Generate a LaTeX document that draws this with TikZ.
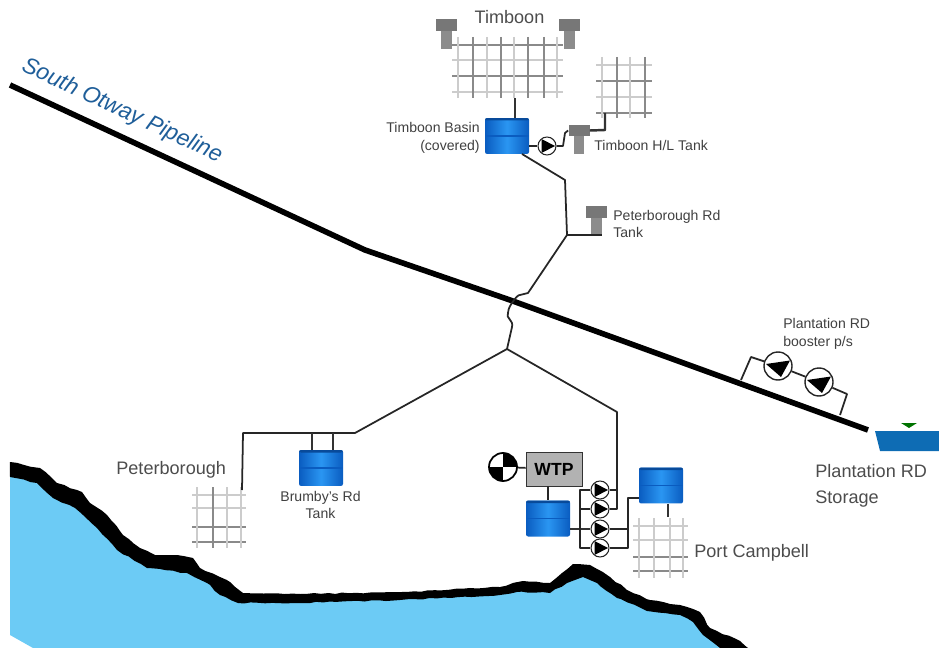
\documentclass[tikz,border=0pt]{standalone}
\usepackage{fontspec}
\setmainfont{Liberation Sans}
\usetikzlibrary{calc,decorations.pathmorphing}
\definecolor{seablue}{HTML}{6CCBF5}
\definecolor{gridlight}{HTML}{CCCCCC}
\definecolor{griddark}{HTML}{8A8A8A}
\definecolor{tankgrey}{HTML}{8C8C8C}
\definecolor{tankdark}{HTML}{0A5CC0}
\definecolor{tanklight}{HTML}{2A96F2}
\definecolor{store}{HTML}{0E6CB4}
\definecolor{pipeline}{HTML}{1F5E99}
\pgfdeclarehorizontalshading{tankshade}{100bp}{color(0bp)=(tankdark);color(25bp)=(tankdark);color(50bp)=(tanklight);color(75bp)=(tankdark);color(100bp)=(tankdark)}
\tikzset{
  x=0.02cm,y=-0.02cm,
  pipe/.style={draw=black!85,line width=1pt,line join=round},
  pipeb/.style={draw=black!80,line width=1.4pt,line join=round},
  thickpipe/.style={draw=black,line width=3.2pt,line join=round},
  rough/.style={decorate,decoration={random steps,segment length=4pt,amplitude=0.4pt}},
  tankbox/.style={rectangle,minimum width=0.88cm,minimum height=0.72cm,inner sep=0pt,rounded corners=1.2pt,
    shading=tankshade,
    path picture={\fill[tankdark!80!black] (path picture bounding box.north west) rectangle ([yshift=-0.05cm]path picture bounding box.north east);
      \draw[tankdark,line width=0.6pt] (path picture bounding box.west) -- (path picture bounding box.east);}},
  pumpc/.style={circle,draw=black!85,fill=white,line width=0.6pt,minimum size=0.36cm,inner sep=0pt,
    path picture={\fill[black] ([xshift=-0.11cm,yshift=0.14cm]path picture bounding box.center) -- ([xshift=0.16cm]path picture bounding box.center) -- ([xshift=-0.11cm,yshift=-0.14cm]path picture bounding box.center) -- cycle;}},
  bigpump/.style={circle,draw=black!85,fill=white,line width=0.8pt,minimum size=0.56cm,inner sep=0pt,
    path picture={\fill[black] ([xshift=-0.24cm,yshift=0.04cm]path picture bounding box.center) -- ([xshift=0.24cm,yshift=0.11cm]path picture bounding box.center) -- ([xshift=0.06cm,yshift=-0.22cm]path picture bounding box.center) -- cycle;}},
  towerhead/.style={rectangle,fill=tankgrey!85!black,inner sep=0pt,minimum width=0.42cm,minimum height=0.23cm},
  towerstem/.style={rectangle,fill=tankgrey,inner sep=0pt,minimum width=0.22cm,minimum height=0.36cm},
  lbl/.style={font=\fontsize{8}{10}\selectfont,text=black!75,inner sep=0pt,align=left},
  lblbig/.style={font=\fontsize{10.3}{15}\selectfont,text=black!70,inner sep=0pt,align=left},
}
\newcommand{\gridnet}[9]{%
  \foreach \hy/\hc in {#3/gridlight,#4/griddark,#5/gridlight,#6/griddark}
    \draw[\hc,line width=1.1pt] (#1,\hy) -- (#2,\hy);
  \foreach \vx/\vc in {#9}
    \draw[\vc,line width=1.1pt] (\vx,#7) -- (\vx,#8);
}
\begin{document}
\begin{tikzpicture}
\useasboundingbox (0,0) rectangle (939,648);
% sea and coast
\fill[seablue] (10,470) -- (37,478) -- (53,492) -- (75,502) -- (97,522) -- (117,545) -- (147,563) -- (187,568) -- (207,578) -- (220,590) -- (238,598) -- (400,596) -- (500,590) -- (517,587) -- (550,588) -- (567,578) -- (583,572) -- (597,578) -- (617,593) -- (647,606) -- (680,610) -- (693,617) -- (703,630) -- (720,648) -- (33,648) -- (10,635) -- cycle;
\fill[black,rough] (10,462) -- (40,468) -- (57,483) -- (82,492) -- (90,503) -- (107,515) -- (123,535) -- (140,548) -- (155,555) -- (177,555) -- (193,558) -- (200,568) -- (220,577) -- (230,582) -- (243,593) -- (300,594) -- (400,592) -- (500,587) -- (523,581) -- (550,583) -- (562,573) -- (573,564) -- (590,565) -- (610,577) -- (627,590) -- (650,600) -- (680,605) -- (700,612) -- (710,628) -- (740,641) -- (748,648) -- (720,648) -- (703,635) -- (693,622) -- (680,615) -- (647,611) -- (617,598) -- (597,583) -- (583,577) -- (567,583) -- (550,593) -- (517,592) -- (500,595) -- (400,600) -- (300,603) -- (238,603) -- (220,595) -- (207,583) -- (187,573) -- (147,568) -- (117,550) -- (97,528) -- (75,508) -- (53,498) -- (37,483) -- (10,477) -- cycle;
% grids
\gridnet{452}{563}{60}{76}{92}{45}{37}{98}{458/gridlight,473/griddark,487/gridlight,501/griddark,514/gridlight,528/griddark,544/griddark,557/gridlight}
\gridnet{596}{652}{65}{81}{97}{113}{57}{118}{602/gridlight,617/griddark,630/gridlight,645/griddark}
\gridnet{192}{246}{495}{527}{508}{542}{487}{548}{197/gridlight,213/griddark,227/gridlight,241/gridlight}
\gridnet{633}{688}{526}{557}{540}{571}{518}{578}{639/gridlight,654/gridlight,670/gridlight,683/gridlight}
% storage
\fill[store] (875,431) -- (939,431) -- (939,451) -- (880,451) -- cycle;
\fill[green!45!black] (901,423) -- (917,423) -- (909,428) -- cycle;
% nodes
\node[towerstem] (tl) at (446.5,40) {}; \node[towerhead] (tlh) at (446.5,25) {};
\node[towerstem] (tr) at (569,40) {}; \node[towerhead] (trh) at (569,25) {};
\node[towerstem,minimum width=0.2cm] (hl) at (578.5,145) {}; \node[towerhead] (hlh) at (579,130.5) {};
\node[towerstem] (pr) at (596,226) {}; \node[towerhead] (prh) at (596,212) {};
\node[tankbox] (basin) at (507,136) {};
\node[tankbox] (brumby) at (321,468) {};
\node[tankbox] (wtptank) at (548,518.5) {};
\node[tankbox] (pctank) at (661,485.5) {};
\node[pumpc] (ptim) at (547,146) {};
\node[pumpc] (p1) at (600,490) {};
\node[pumpc] (p2) at (600,509) {};
\node[pumpc] (p3) at (600,529) {};
\node[pumpc] (p4) at (600,548) {};
\node[bigpump] (b1) at (778,366) {};
\node[bigpump] (b2) at (819,382) {};
\node[rectangle,draw=black!80,fill=black!30,minimum width=1.12cm,minimum height=0.68cm,inner sep=0pt,font=\bfseries\fontsize{10}{12}\selectfont] (wtp) at (554,469) {WTP};
\node[circle,draw=black,line width=1pt,fill=white,minimum size=0.56cm,inner sep=0pt,
  path picture={\fill[black] (path picture bounding box.center) rectangle (path picture bounding box.north east);
  \fill[black] (path picture bounding box.center) rectangle (path picture bounding box.south west);}] (clock) at (503,467) {};
% coordinates
\coordinate (A) at (10,85); \coordinate (B) at (365,250); \coordinate (C) at (510,300); \coordinate (D) at (868,430);
\coordinate (J) at (507,349); \coordinate (L1) at (355,433); \coordinate (L2) at (243,433); \coordinate (gPet) at (242,490);
\coordinate (R1) at (617,412); \coordinate (R2) at (617,509); \coordinate (R3) at (617,490);
\coordinate (T1) at (567,235); \coordinate (T2) at (565,180); \coordinate (T3) at (522,154);
\coordinate (S1) at (528,293); \coordinate (S2) at (520,295); \coordinate (S3) at (512,303); \coordinate (S4) at (508,313); \coordinate (S5) at (512,327);
\coordinate (bL) at (312,433); \coordinate (bR) at (333,433);
\coordinate (gTim) at (515,98); \coordinate (gHL) at (605,113); \coordinate (gPC) at (668,517);
\coordinate (hBend) at (605,130); \coordinate (k1) at (563,146); \coordinate (k2) at (565,133);
\coordinate (busT) at (580,490); \coordinate (busM) at (580,509); \coordinate (busB) at (580,548);
\coordinate (rT) at (628,498); \coordinate (rM) at (628,529); \coordinate (rB) at (628,548);
\coordinate (c1) at (741,380); \coordinate (c2) at (751,357); \coordinate (c3) at (847,394); \coordinate (c4) at (840,415);
% pipeline
\draw[thickpipe] (A) -- (B) -- (C) -- (D);
% network
\draw[pipe] (J) -- (L1) -- (L2) -- (gPet);
\draw[pipe] (J) -- (R1) -- (R2) -- (p2.east);
\draw[pipe] (p1.east) -- (R3);
\draw[pipe] (J) -- (S5) .. controls (514,320) and (505,318) .. (S4) .. controls (508,308) and (512,303) .. (S3) .. controls (516,297) and (518,295) .. (S2) -- (S1) -- (T1) -- (T2) -- (T3);
\draw[pipe] (T1) -- (T1 -| pr.east);
\draw[pipeb] (bL) -- (bL |- brumby.north);
\draw[pipeb] (bR) -- (bR |- brumby.north);
\draw[pipeb] (basin.north -| gTim) -- (gTim);
\draw[pipe] (basin.east |- ptim) -- (ptim);
\draw[pipe] (ptim.east) -- (k1) -- (k2) -- (hlh.west);
\draw[pipeb] (hlh.east) -- (hBend) -- (gHL);
% WTP group
\draw[pipe] (clock) -- (wtp);
\draw[pipe] (wtp.south -| wtptank) -- (wtptank);
\draw[pipeb] (wtptank.east |- p3) -- (p3.west);
\draw[pipe] (p1.west) -- (busT) -- (busB) -- (p4.west);
\draw[pipe] (busM) -- (p2.west);
\draw[pipe] (p3.east) -- (rM);
\draw[pipe] (p4.east) -- (rB) -- (rT) -- (rT -| pctank.west);
\draw[pipeb] (pctank.south -| gPC) -- (gPC);
% booster
\draw[pipe] (c1) -- (c2) -- (b1);
\draw[pipe] (b1) -- (b2);
\draw[pipe] (b2) -- (c3) -- (c4);
% labels
\node[lblbig,anchor=center] (ltim) at (509.5,17) {Timboon};
\node[lbl,anchor=east,align=right] (lbasin) at (480,138) {Timboon Basin\\(covered)};
\node[lbl,anchor=west] (lhl) at (594,145) {Timboon H/L Tank};
\node[lbl,anchor=west] (lpr) at (613,224) {Peterborough Rd\\Tank};
\node[lbl,anchor=west] (lboost) at (783,334) {Plantation RD\\booster p/s};
\node[lblbig,anchor=west] (lstore) at (815,486) {Plantation RD\\Storage};
\node[lblbig,anchor=west] (lpet) at (116,470) {Peterborough};
\node[lbl,align=center] (lbr) at (320.5,505) {Brumby's Rd\\Tank};
\node[lblbig,anchor=west] (lpc) at (694,553) {Port Campbell};
\node[font=\itshape\fontsize{13}{15}\selectfont,text=pipeline,rotate=-25,inner sep=0pt] (lso) at (122,111) {South Otway Pipeline};
\end{tikzpicture}
\end{document}
